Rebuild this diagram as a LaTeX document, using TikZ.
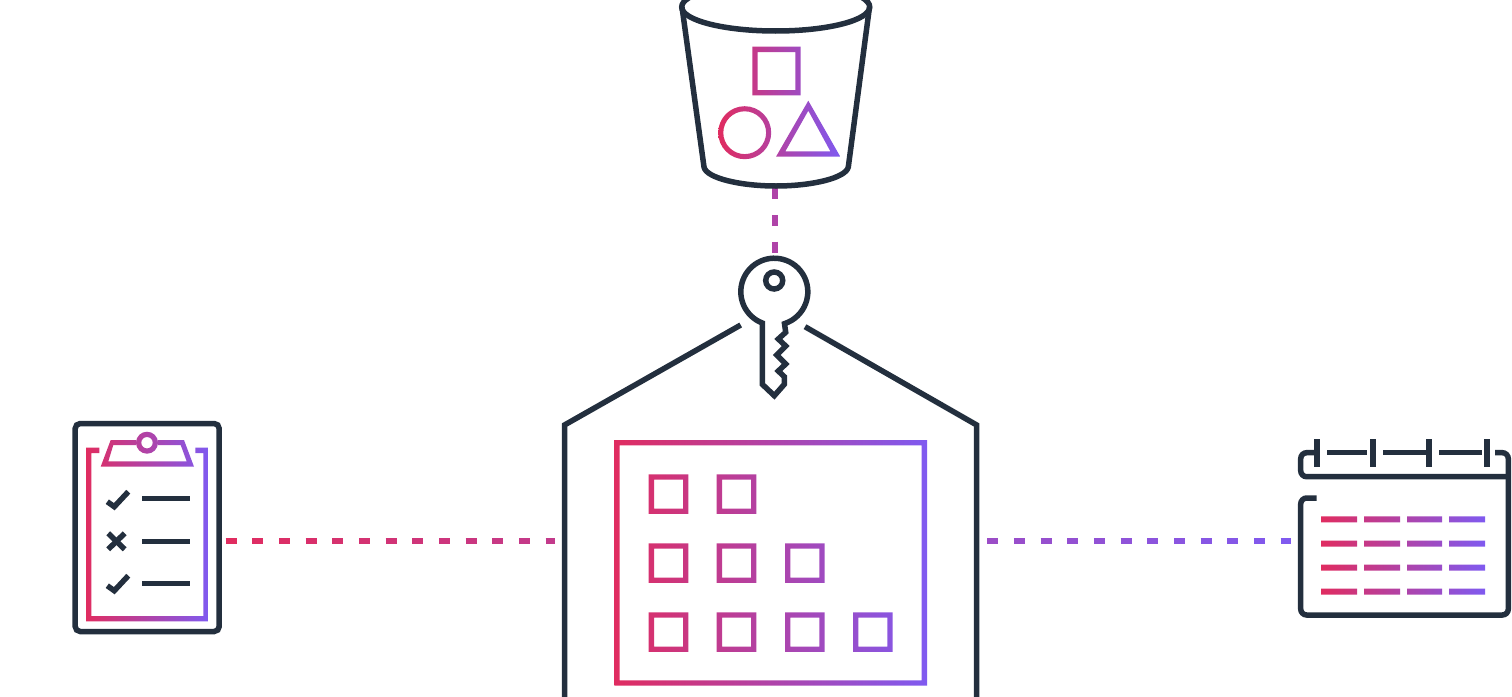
\documentclass[tikz,border=0pt]{standalone}
\usetikzlibrary{calc}
\definecolor{ink}{HTML}{232F3E}
\definecolor{gA}{HTML}{E02C60}
\definecolor{gB}{HTML}{7F5AF0}
\tikzset{
  inkline/.style={draw=ink,line width=5.5pt,line join=miter},
  dashseg/.style={line width=5.4pt}
}
% gradient-coloured outline: clip to the shape, shade a horizontal band
\newcommand\gradshape[3]{\begin{scope}[even odd rule]\clip #3;
  \shade[left color=gA,right color=gB] (#1,-20) rectangle (#2,720);\end{scope}}
\begin{document}
\begin{tikzpicture}[x=1pt,y=1pt,yscale=-1]
\useasboundingbox (0,0) rectangle (1512,696);

% invisible named anchors of the icons
\coordinate (bucketOut) at (775,188.3);
\coordinate (keyIn) at (775,252.7);
\coordinate (listOut) at (225.7,541);
\coordinate (vaultW) at (555,541);
\coordinate (vaultE) at (987.3,541);
\coordinate (calIn) at (1291.3,541);

% ---- dashed connectors, colour follows the overall gradient
\foreach \i in {0,...,12}{
  \pgfmathsetmacro\sa{\i*26.67/329.3}
  \pgfmathsetmacro\sb{min(1,(\i*26.67+11)/329.3)}
  \pgfmathsetmacro\p{(225.7+\i*26.67-225.7)/1065*100}
  \draw[dashseg,color={gB!\p!gA}] ($(listOut)!\sa!(vaultW)$) -- ($(listOut)!\sb!(vaultW)$);
}
\foreach \i in {0,...,11}{
  \pgfmathsetmacro\sa{\i*26.67/304}
  \pgfmathsetmacro\sb{min(1,(\i*26.67+11)/304)}
  \pgfmathsetmacro\p{(987.3+\i*26.67-226)/1065*100}
  \draw[dashseg,color={gB!\p!gA}] ($(vaultE)!\sa!(calIn)$) -- ($(vaultE)!\sb!(calIn)$);
}
\foreach \i in {0,1,2}{
  \pgfmathsetmacro\sa{\i*26.67/64.4}
  \pgfmathsetmacro\sb{min(1,(\i*26.67+11)/64.4)}
  \draw[dashseg,color={gB!50!gA}] ($(bucketOut)!\sa!(keyIn)$) -- ($(bucketOut)!\sb!(keyIn)$);
}

% ---- bucket
\draw[inkline] (775.7,7) ellipse [x radius=94,y radius=24];
\draw[inkline] (682,7) -- (704,167)
  .. controls (706,178) and (740,186) .. (776,186)
  .. controls (812,186) and (846,178) .. (848.3,167) -- (869.5,7);
\gradshape{718.3}{840.3}{
  (752.3,46.7) rectangle (800.7,95.3) (757.6,52) rectangle (795.4,90)
  (744.7,132.7) circle (26.5) (744.7,132.7) circle (21.4)
  (808.3,100.7) -- (840.3,156.7) -- (776,156.7) -- cycle
  (808.3,110.7) -- (830.4,151.4) -- (785.3,151.4) -- cycle}

% ---- key
\draw[inkline] (762.3,323) arc[start angle=111,end angle=432.3,radius=33.5]
  -- (785.7,332.3) -- (778.3,339) -- (785.7,346) -- (776.7,355) -- (785.7,364)
  -- (778.3,371) -- (784.3,376.7) -- (784.3,384.3) -- (774.3,395.7)
  -- (762.3,384.3) -- cycle;
\draw[inkline] (774.2,280.5) circle (8.5);

% ---- vault outline
\draw[inkline] (564.5,700) -- (564.5,425) -- (740.7,325);
\draw[inkline] (805,326.7) -- (976.7,425) -- (976.7,700);

% ---- vault frame and squares
\gradshape{614.3}{927}{
  (614.3,440) rectangle (927,685.7) (619.6,445.3) rectangle (921.7,680.4)
  foreach \x/\y in {648.7/474.3,716.7/474.3,
                    648.7/543.3,716.7/543.3,785/543.3,
                    648.7/612.3,716.7/612.3,785/612.3,853/612.3}{
    (\x,\y) rectangle ++(39.6,39.6) (\x+5.3,\y+5.3) rectangle ++(29,29)}}

% ---- clipboard
\draw[inkline,rounded corners=5pt] (75.2,423.5) rectangle (219.2,631.5);
\gradshape{86}{208.7}{
  (99.3,447.7) -- (86,447.7) -- (86,621.3) -- (208.7,621.3) -- (208.7,447.7)
  -- (195.3,447.7) -- (195.3,453) -- (203.4,453) -- (203.4,616)
  -- (91.3,616) -- (91.3,453) -- (99.3,453) -- cycle}
\gradshape{86}{208.7}{
  (110.7,440) -- (184,440) -- (194,466.7) -- (100.7,466.7) -- cycle
  (113.3,445) -- (180.7,445) -- (186.7,461.4) -- (108.3,461.4) -- cycle}
\fill[white] (147,442.7) circle (11);
\gradshape{86}{208.7}{(147,442.7) circle (11) (147,442.7) circle (5.7)}
\draw[inkline] (107.3,501.7) -- (114.3,506.7) -- (128.3,491.7);
\draw[inkline] (108.2,533.3) -- (124.7,549.3);
\draw[inkline] (124.7,533.3) -- (108.2,549.3);
\draw[inkline] (107.3,585.7) -- (114.3,590.7) -- (128.3,575.7);
\draw[inkline] (142,498.3) -- (190,498.3);
\draw[inkline] (142,541.3) -- (190,541.3);
\draw[inkline] (142,583.3) -- (190,583.3);

% ---- calendar
\draw[inkline,rounded corners=6pt] (1314.3,452.7) -- (1300.7,452.7) -- (1300.7,476.7) -- (1508.3,476.7);
\draw[inkline,rounded corners=6pt] (1495,452.7) -- (1508.3,452.7) -- (1508.3,615) -- (1300.7,615) -- (1300.7,498) -- (1316.7,498);
\foreach \x in {1317,1373,1429,1487}{
  \draw[inkline,line width=6pt] (\x,439.3) -- (\x,466.7);
}
\draw[inkline] (1327,452.7) -- (1367,452.7);
\draw[inkline] (1383,452.7) -- (1427,452.7);
\draw[inkline] (1439,452.7) -- (1482,452.7);
\gradshape{1321}{1485}{
  foreach \y in {519.3,543.7,567.7,591.7}{
    (1321,\y-3) rectangle (1357,\y+3)
    (1364,\y-3) rectangle (1400,\y+3)
    (1407,\y-3) rectangle (1442,\y+3)
    (1449,\y-3) rectangle (1485,\y+3)}}
\end{tikzpicture}
\end{document}
